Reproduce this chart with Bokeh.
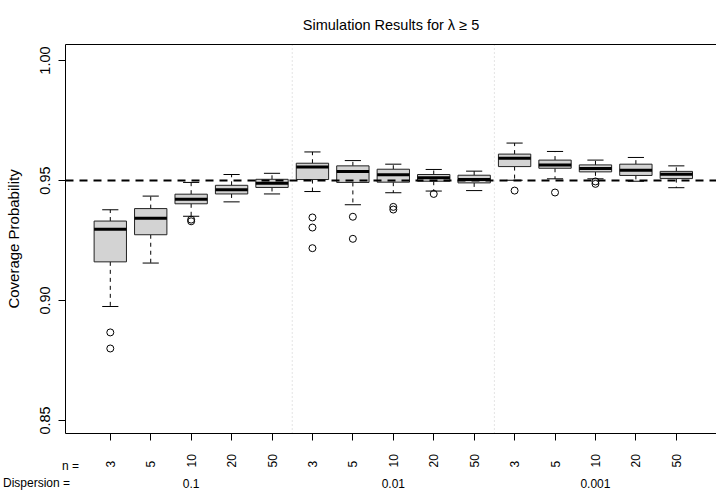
import numpy as np
from bokeh.plotting import figure
from bokeh.layouts import column
from bokeh.models import (Range1d, ColumnDataSource, Span, FixedTicker,
                          PrintfTickFormatter, LinearAxis)
from bokeh.core.properties import value
from bokeh.embed import file_html
from bokeh.resources import INLINE

# ---- data ----
n_labels = ["3", "5", "10", "20", "50", "3", "5", "10", "20", "50", "3", "5", "10", "20", "50"]
dispersion_labels = ["0.1", "0.01", "0.001"]
dispersion_pos = [3, 8, 13]
lower_whisker = [0.8975, 0.9156, 0.9351, 0.9411, 0.9444,
                 0.9454, 0.9399, 0.9449, 0.9456, 0.9458,
                 0.9501, 0.9507, 0.9507, 0.9497, 0.9470]
q1 = [0.9161, 0.9274, 0.9403, 0.9444, 0.9471,
      0.9504, 0.9492, 0.9493, 0.9497, 0.9490,
      0.9558, 0.9551, 0.9536, 0.9521, 0.9508]
median = [0.9297, 0.9343, 0.9422, 0.9461, 0.9489,
          0.9556, 0.9538, 0.9524, 0.9511, 0.9504,
          0.9593, 0.9565, 0.9550, 0.9543, 0.9526]
q3 = [0.9331, 0.9383, 0.9443, 0.9480, 0.9505,
      0.9572, 0.9561, 0.9547, 0.9525, 0.9522,
      0.9610, 0.9585, 0.9565, 0.9568, 0.9538]
upper_whisker = [0.9378, 0.9435, 0.9492, 0.9525, 0.9530,
                 0.9619, 0.9583, 0.9568, 0.9546, 0.9539,
                 0.9656, 0.9621, 0.9585, 0.9596, 0.9561]
outliers = [[0.8867, 0.8800], [], [0.9337, 0.9330], [], [],
            [0.9346, 0.9304, 0.9218], [0.9349, 0.9257], [0.9390, 0.9379], [0.9444], [],
            [0.9458], [0.9450], [0.9496, 0.9486], [], []]
nominal = 0.95
group_breaks = [5.5, 10.5]
y_ticks = [0.85, 0.90, 0.95, 1.00]

pos = np.arange(1, len(median) + 1, dtype=float)
half = 0.4
cap = 0.2
FONT = "Liberation Sans"
W = 716

# ---------------- main plot ----------------
p = figure(width=W, height=445, output_backend="svg", toolbar_location=None,
           x_range=Range1d(-0.108, 15.994), y_range=Range1d(0.84458, 1.00667),
           min_border_left=65, min_border_right=0, min_border_top=44, min_border_bottom=12,
           title="Simulation Results for λ ≥ 5")
p.frame_align = False
p.title.align = "center"
p.title.text_font = FONT
p.title.text_font_size = "14.5px"
p.title.text_font_style = "normal"
p.title.text_color = "black"
p.title.standoff = 24
p.outline_line_color = None
p.background_fill_color = "white"
p.border_fill_color = "white"
p.xgrid.visible = False
p.ygrid.visible = False

xa = p.xaxis[0]
xa.ticker = FixedTicker(ticks=list(pos))
xa.major_label_overrides = {float(v): "" for v in pos}
xa.major_label_standoff = 0
xa.major_tick_out = 7
xa.major_tick_in = 0
xa.minor_tick_out = 0
xa.minor_tick_in = 0
xa.axis_line_color = "black"
xa.major_tick_line_color = "black"

ya = p.yaxis[0]
ya.ticker = FixedTicker(ticks=y_ticks)
ya.formatter = PrintfTickFormatter(format="%.2f")
ya.major_label_orientation = "vertical"
ya.major_label_text_font = FONT
ya.major_label_text_font_size = "14.5px"
ya.major_label_text_color = "black"
ya.major_label_standoff = 8
ya.major_tick_out = 7
ya.major_tick_in = 0
ya.minor_tick_out = 0
ya.minor_tick_in = 0
ya.axis_line_color = "black"
ya.axis_label = "Coverage Probability"
ya.axis_label_text_font = FONT
ya.axis_label_text_font_size = "15px"
ya.axis_label_text_font_style = "normal"
ya.axis_label_text_color = "black"
ya.axis_label_standoff = 16

top = LinearAxis(ticker=FixedTicker(ticks=[]), major_tick_out=0, minor_tick_out=0,
                 major_label_standoff=0, axis_line_color="black")
p.add_layout(top, "above")

src = ColumnDataSource(dict(x=pos, left=pos - half, right=pos + half,
                            cl=pos - cap, cr=pos + cap,
                            lw=lower_whisker, q1=q1, med=median, q3=q3, uw=upper_whisker))

for b in group_breaks:
    p.add_layout(Span(location=b, dimension="height", line_color="#C8C8C8",
                      line_dash="1 3", line_width=1, level="underlay"))

p.segment(x0="x", y0="q3", x1="x", y1="uw", source=src, line_color="black",
          line_dash="4 4", line_width=1)
p.segment(x0="x", y0="q1", x1="x", y1="lw", source=src, line_color="black",
          line_dash="4 4", line_width=1)
p.segment(x0="cl", y0="uw", x1="cr", y1="uw", source=src, line_color="black", line_width=1)
p.segment(x0="cl", y0="lw", x1="cr", y1="lw", source=src, line_color="black", line_width=1)
p.quad(left="left", right="right", bottom="q1", top="q3", source=src,
       fill_color="#D3D3D3", line_color="#222222", line_width=1)
p.segment(x0="left", y0="med", x1="right", y1="med", source=src, line_color="black",
          line_width=3, line_cap="butt")

ox = [pos[i] for i, vals in enumerate(outliers) for _ in vals]
oy = [v for vals in outliers for v in vals]
p.scatter(ox, oy, marker="circle", size=7, fill_color=None, line_color="black", line_width=1)

p.add_layout(Span(location=nominal, dimension="width", line_color="black",
                  line_dash="8 6", line_width=2))

# ---------------- label strip below ----------------
q = figure(width=W, height=45, output_backend="svg", toolbar_location=None,
           x_range=Range1d(-1.7158, 15.994), y_range=Range1d(490, 445),
           min_border=0, x_axis_location=None, y_axis_location=None)
q.frame_align = False
q.outline_line_color = None
q.xgrid.visible = False
q.ygrid.visible = False
q.background_fill_color = "white"
q.border_fill_color = "white"

q.text(x=pos, y=[467] * len(pos), text=n_labels, angle=np.pi / 2,
       text_align="left", text_baseline="middle",
       text_font=value(FONT), text_font_size="12px", text_color="black")
q.text(x=[0.226], y=[465.5], text=["n ="], text_align="right", text_baseline="alphabetic",
       text_font=value(FONT), text_font_size="12px", text_color="black")
q.text(x=[0.003], y=[482.5], text=["Dispersion ="], text_align="right",
       text_baseline="alphabetic",
       text_font=value(FONT), text_font_size="12px", text_color="black")
q.text(x=dispersion_pos, y=[482.5] * len(dispersion_pos), text=dispersion_labels,
       text_align="center", text_baseline="alphabetic",
       text_font=value(FONT), text_font_size="12px", text_color="black")

layout = column(p, q, spacing=0)
open("out.html", "w").write(file_html(layout, INLINE))
